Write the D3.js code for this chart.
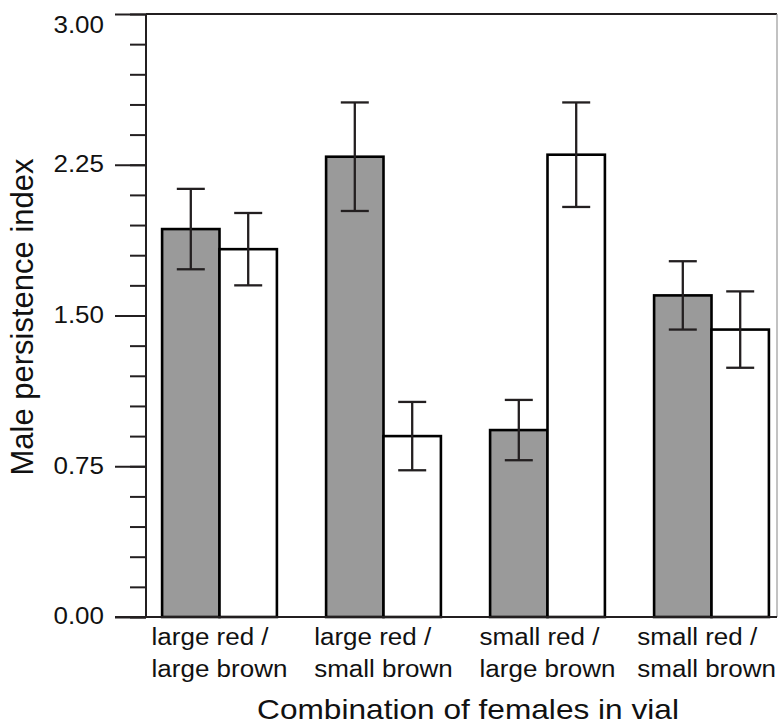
<!DOCTYPE html>
<html>
<head>
<meta charset="utf-8">
<script src="https://cdn.jsdelivr.net/npm/d3@7"></script>
<style>
  body { margin: 0; background: #fff; }
  text { font-family: "Liberation Sans", Arial, sans-serif; fill: #111; }
</style>
</head>
<body>
<svg width="780" height="726"></svg>
<script>
// data
var categories = ['large red /\nlarge brown', 'large red /\nsmall brown', 'small red /\nlarge brown', 'small red /\nsmall brown'];
var seriesNames = ['shaded', 'open'];
var shadedMeans = [1.93, 2.29, 0.93, 1.60];
var shadedErrors = [0.20, 0.27, 0.15, 0.17];
var openMeans = [1.83, 0.90, 2.30, 1.43];
var openErrors = [0.18, 0.17, 0.26, 0.19];
var yTicks = [0, 0.75, 1.50, 2.25, 3.00];

var svg = d3.select('svg');
var dark = '#231f20';
var stretch = 1.13; // the reference text is drawn wider than Arial

// (window.top is read only, so not "top")
var plotTop = 14, plotBottom = 617, plotLeft = 146, plotRight = 777;

var y = d3.scaleLinear().domain([0, 3]).range([plotBottom, plotTop]);
var x0 = d3.scaleBand().domain(categories).range([137.5, 793.5])
    .paddingInner(0.3).paddingOuter(0.15);
var x1 = d3.scaleBand().domain(seriesNames).range([0, x0.bandwidth()]);

var rows = [];
categories.forEach(function(c, i) {
    rows.push({cat: c, s: 'shaded', v: shadedMeans[i], e: shadedErrors[i]});
    rows.push({cat: c, s: 'open', v: openMeans[i], e: openErrors[i]});
});

// frame: top and right lines
svg.append('line').attr('x1', plotLeft).attr('x2', plotRight).attr('y1', plotTop).attr('y2', plotTop)
    .style('stroke', dark).style('stroke-width', 2);
svg.append('line').attr('x1', plotRight).attr('x2', plotRight).attr('y1', plotTop).attr('y2', plotBottom)
    .style('stroke', '#999').style('stroke-width', 1.2);

// bars
svg.append('g').selectAll('rect')
    .data(rows)
    .enter().append('rect')
    .attr('x', d => x0(d.cat) + x1(d.s))
    .attr('y', d => y(d.v))
    .attr('width', x1.bandwidth())
    .attr('height', d => y(0) - y(d.v))
    .style('fill', d => d.s == 'shaded' ? '#9a9a9a' : '#fff')
    .style('stroke', '#000')
    .style('stroke-width', 2.6);

// error bars
var err = svg.append('g').selectAll('g')
    .data(rows)
    .enter().append('g')
    .attr('transform', d => 'translate(' + (x0(d.cat) + x1(d.s) + x1.bandwidth() / 2) + ',0)')
    .style('stroke', dark).style('stroke-width', 2.3);
err.append('line').attr('y1', d => y(d.v + d.e)).attr('y2', d => y(d.v - d.e));
err.append('line').attr('x1', -14).attr('x2', 14).attr('y1', d => y(d.v + d.e)).attr('y2', d => y(d.v + d.e));
err.append('line').attr('x1', -14).attr('x2', 14).attr('y1', d => y(d.v - d.e)).attr('y2', d => y(d.v - d.e));

// minor ticks
var minor = svg.append('g')
    .attr('transform', 'translate(' + plotLeft + ',0)')
    .call(d3.axisLeft(y).tickValues(d3.range(0, 3.001, 0.15)).tickSize(16).tickFormat(''));
minor.select('.domain').remove();
minor.selectAll('line').style('stroke', dark).style('stroke-width', 2);

// major ticks with labels
var yAxis = svg.append('g')
    .attr('transform', 'translate(' + plotLeft + ',0)')
    .call(d3.axisLeft(y).tickValues(yTicks).tickSize(31).tickFormat(d3.format('.2f')));
yAxis.select('.domain').remove();
yAxis.selectAll('line').style('stroke', dark).style('stroke-width', 2);
yAxis.selectAll('text')
    .attr('x', -42 / stretch)
    .attr('dy', d => d == 3 ? '0.82em' : '0.3em')
    .attr('transform', 'scale(' + stretch + ',1)')
    .style('font-size', '23px')
    .style('font-family', '"Liberation Sans", Arial, sans-serif')
    .style('fill', '#111');

svg.append('line').attr('x1', plotLeft).attr('x2', plotLeft).attr('y1', plotTop).attr('y2', plotBottom)
    .style('stroke', dark).style('stroke-width', 2);
svg.append('line').attr('x1', plotLeft - 31).attr('x2', plotRight).attr('y1', plotBottom).attr('y2', plotBottom)
    .style('stroke', dark).style('stroke-width', 2);

// category labels, two left aligned lines centred as a block
categories.forEach(function(c) {
    var g = svg.append('g');
    var t = g.append('text').style('font-size', '23px');
    c.split('\n').forEach(function(line, j) {
        t.append('tspan').attr('x', 0).attr('y', 645 + j * 32).text(line);
    });
    var w = t.node().getBBox().width * stretch;
    var cx = Math.min(x0(c) + x0.bandwidth() / 2, 776 - w / 2);
    g.attr('transform', 'translate(' + (cx - w / 2) + ',0) scale(' + stretch + ',1)');
});

// axis titles
svg.append('g')
    .attr('transform', 'translate(468,719) scale(' + stretch + ',1)')
    .append('text')
    .style('text-anchor', 'middle')
    .style('font-size', '28px')
    .text('Combination of females in vial');
svg.append('text')
    .attr('transform', 'translate(33,317) rotate(-90)')
    .style('text-anchor', 'middle')
    .style('font-size', '31px')
    .text('Male persistence index');
</script>
</body>
</html>
